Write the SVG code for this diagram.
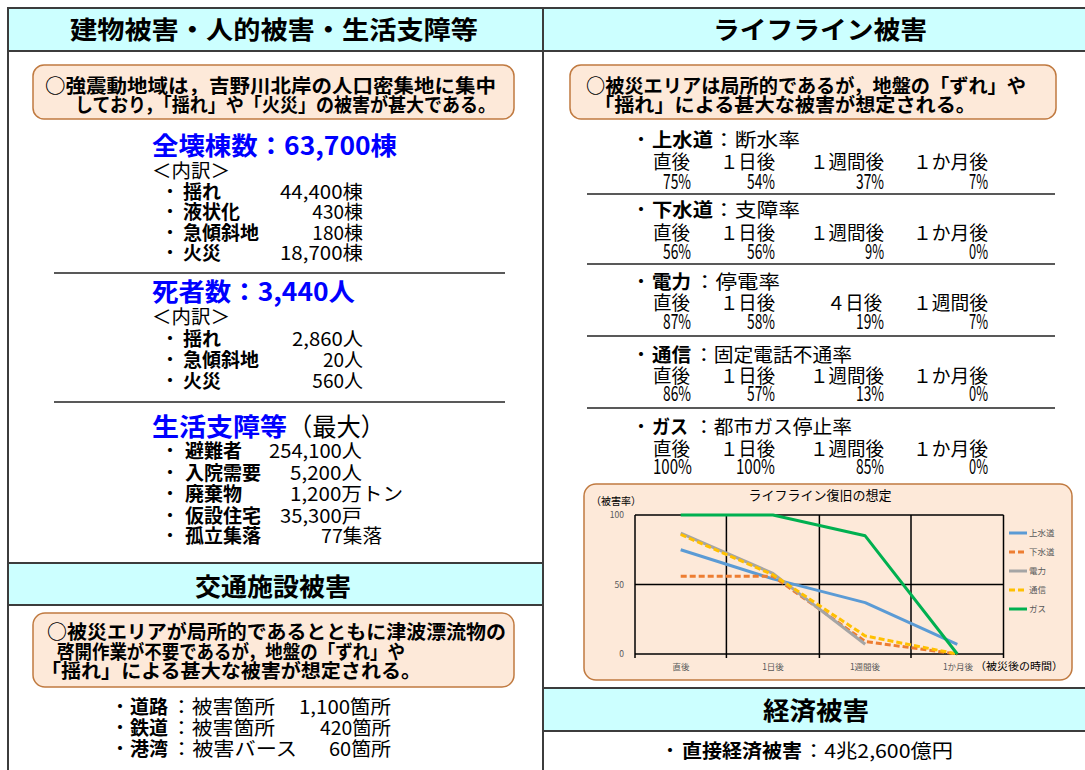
<svg xmlns="http://www.w3.org/2000/svg" width="1085" height="770" viewBox="0 0 1085 770">
<style>
text{font-family:"Noto Sans CJK JP","Noto Sans CJK SC",sans-serif;fill:#000}
.ttl{font-size:25px;font-weight:700;text-anchor:middle}
.hd{fill:#CCFFFF}
.fr{stroke:#3c3c3c;stroke-width:2;fill:none}
.co{fill:#FDE9D9;stroke:#C07A40;stroke-width:1.5}
.ct{font-size:19px;font-weight:700}
.bl{font-size:25px;font-weight:700;fill:#0000FF}
.n{font-size:19px}
.p{font-size:20.5px;text-anchor:end}
.b{font-weight:700}
.e{text-anchor:end}
.m{text-anchor:middle}
.dv{stroke:#222;stroke-width:1.3}
.g{stroke:#000;stroke-width:1.5}
.ax{font-size:8.5px;fill:#595959}
.s{fill:none;stroke-width:3;stroke-linejoin:round}
.d{stroke-dasharray:6 3}
</style>
<rect x="0" y="0" width="1085" height="770" fill="#fff"/>

<g id="frame">
<rect class="hd" x="8" y="8" width="535" height="43"/>
<rect class="hd" x="543" y="8" width="542" height="43"/>
<rect class="hd" x="8" y="563" width="535" height="42"/>
<rect class="hd" x="543" y="688" width="542" height="43"/>
<line class="fr" x1="7" y1="8" x2="1085" y2="8"/>
<line class="fr" x1="8" y1="51" x2="1085" y2="51"/>
<line class="fr" x1="8" y1="7" x2="8" y2="770"/>
<line class="fr" x1="543" y1="7" x2="543" y2="770"/>
<line class="fr" x1="8" y1="563" x2="543" y2="563"/>
<line class="fr" x1="8" y1="605" x2="543" y2="605"/>
<line class="fr" x1="543" y1="688" x2="1085" y2="688"/>
<line class="fr" x1="543" y1="731" x2="1085" y2="731"/>
</g>

<g id="building">
<text class="ttl" x="274" y="39" textLength="408" lengthAdjust="spacingAndGlyphs">建物被害・人的被害・生活支障等</text>
<rect class="co" x="33" y="65" width="481" height="54" rx="11"/>
<text class="ct" x="45" y="93" textLength="451" lengthAdjust="spacingAndGlyphs">○強震動地域は，吉野川北岸の人口密集地に集中</text>
<text class="ct" x="75" y="112" textLength="421" lengthAdjust="spacingAndGlyphs">しており，「揺れ」や「火災」の被害が甚大である。</text>

<text class="bl" x="152" y="155" textLength="245" lengthAdjust="spacingAndGlyphs">全壊棟数：63,700棟</text>
<text class="n" x="152" y="178" textLength="78" lengthAdjust="spacingAndGlyphs">＜内訳＞</text>
<text class="n m" x="170" y="199">・</text><text class="n b" x="183" y="199">揺れ</text><text class="n e" x="363" y="199" textLength="83" lengthAdjust="spacingAndGlyphs">44,400棟</text>
<text class="n m" x="170" y="219">・</text><text class="n b" x="183" y="219">液状化</text><text class="n e" x="363" y="219">430棟</text>
<text class="n m" x="170" y="240">・</text><text class="n b" x="183" y="240">急傾斜地</text><text class="n e" x="363" y="240">180棟</text>
<text class="n m" x="170" y="260">・</text><text class="n b" x="183" y="260">火災</text><text class="n e" x="363" y="260" textLength="83" lengthAdjust="spacingAndGlyphs">18,700棟</text>
<line class="dv" x1="54" y1="273" x2="505" y2="273"/>

<text class="bl" x="152" y="301" textLength="203" lengthAdjust="spacingAndGlyphs">死者数：3,440人</text>
<text class="n" x="152" y="324" textLength="78" lengthAdjust="spacingAndGlyphs">＜内訳＞</text>
<text class="n m" x="170" y="346">・</text><text class="n b" x="183" y="346">揺れ</text><text class="n e" x="363" y="346" textLength="71" lengthAdjust="spacingAndGlyphs">2,860人</text>
<text class="n m" x="170" y="367">・</text><text class="n b" x="183" y="367">急傾斜地</text><text class="n e" x="363" y="367">20人</text>
<text class="n m" x="170" y="388">・</text><text class="n b" x="183" y="388">火災</text><text class="n e" x="363" y="388">560人</text>
<line class="dv" x1="54" y1="402" x2="505" y2="402"/>

<text class="bl" x="152" y="436" textLength="135" lengthAdjust="spacingAndGlyphs">生活支障等</text>
<text x="288" y="436" style="font-size:25px" textLength="97" lengthAdjust="spacingAndGlyphs">（最大）</text>
<text class="n m" x="170" y="458">・</text><text class="n b" x="185" y="458">避難者</text><text class="n" x="269" y="458" textLength="93" lengthAdjust="spacingAndGlyphs">254,100人</text>
<text class="n m" x="170" y="480">・</text><text class="n b" x="185" y="480">入院需要</text><text class="n" x="290" y="480" textLength="72" lengthAdjust="spacingAndGlyphs">5,200人</text>
<text class="n m" x="170" y="501">・</text><text class="n b" x="185" y="501">廃棄物</text><text class="n" x="290" y="501" textLength="113" lengthAdjust="spacingAndGlyphs">1,200万トン</text>
<text class="n m" x="170" y="523">・</text><text class="n b" x="185" y="523">仮設住宅</text><text class="n" x="280" y="523" textLength="82" lengthAdjust="spacingAndGlyphs">35,300戸</text>
<text class="n m" x="170" y="543">・</text><text class="n b" x="185" y="543">孤立集落</text><text class="n" x="321" y="543" textLength="61" lengthAdjust="spacingAndGlyphs">77集落</text>
</g>

<g id="traffic">
<text class="ttl" x="273" y="596" textLength="156" lengthAdjust="spacingAndGlyphs">交通施設被害</text>
<rect class="co" x="33" y="613" width="481" height="74" rx="12"/>
<text class="ct" x="47" y="639" textLength="459" lengthAdjust="spacingAndGlyphs">○被災エリアが局所的であるとともに津波漂流物の</text>
<text class="ct" x="57" y="659" textLength="348" lengthAdjust="spacingAndGlyphs">啓開作業が不要であるが，地盤の「ずれ」や</text>
<text class="ct" x="41" y="678" textLength="380" lengthAdjust="spacingAndGlyphs">「揺れ」による甚大な被害が想定される。</text>
<text class="n m" x="120" y="714">・</text><text class="n b" x="130" y="714">道路</text><text class="n" x="171" y="714" textLength="104" lengthAdjust="spacingAndGlyphs">：被害箇所</text><text class="n e" x="391" y="714" textLength="92" lengthAdjust="spacingAndGlyphs">1,100箇所</text>
<text class="n m" x="120" y="735">・</text><text class="n b" x="130" y="735">鉄道</text><text class="n" x="171" y="735" textLength="104" lengthAdjust="spacingAndGlyphs">：被害箇所</text><text class="n e" x="391" y="735" textLength="71" lengthAdjust="spacingAndGlyphs">420箇所</text>
<text class="n m" x="120" y="756">・</text><text class="n b" x="130" y="756">港湾</text><text class="n" x="171" y="756" textLength="126" lengthAdjust="spacingAndGlyphs">：被害バース</text><text class="n e" x="391" y="756" textLength="62" lengthAdjust="spacingAndGlyphs">60箇所</text>
</g>

<g id="lifeline">
<text class="ttl" x="820" y="39" textLength="214" lengthAdjust="spacingAndGlyphs">ライフライン被害</text>
<rect class="co" x="570" y="65" width="486" height="54" rx="11"/>
<text class="ct" x="586" y="93" textLength="440" lengthAdjust="spacingAndGlyphs">○被災エリアは局所的であるが，地盤の「ずれ」や</text>
<text class="ct" x="594" y="112" textLength="382" lengthAdjust="spacingAndGlyphs">「揺れ」による甚大な被害が想定される。</text>

<text class="n m" x="641" y="147">・</text><text class="n b" x="652" y="147" textLength="61" lengthAdjust="spacingAndGlyphs">上水道</text><text class="n" x="713" y="147" textLength="87" lengthAdjust="spacingAndGlyphs">：断水率</text>
<text class="n" x="653" y="169" textLength="37" lengthAdjust="spacingAndGlyphs">直後</text><text class="n" x="720" y="169" textLength="55" lengthAdjust="spacingAndGlyphs">１日後</text><text class="n" x="810" y="169" textLength="74" lengthAdjust="spacingAndGlyphs">１週間後</text><text class="n" x="913" y="169" textLength="75" lengthAdjust="spacingAndGlyphs">１か月後</text>
<text class="p" x="691" y="189" textLength="28" lengthAdjust="spacingAndGlyphs">75%</text><text class="p" x="775" y="189" textLength="28" lengthAdjust="spacingAndGlyphs">54%</text><text class="p" x="884" y="189" textLength="28" lengthAdjust="spacingAndGlyphs">37%</text><text class="p" x="988" y="189" textLength="19" lengthAdjust="spacingAndGlyphs">7%</text>
<line class="dv" x1="587" y1="194" x2="1055" y2="194"/>

<text class="n m" x="641" y="217">・</text><text class="n b" x="652" y="217" textLength="61" lengthAdjust="spacingAndGlyphs">下水道</text><text class="n" x="713" y="217" textLength="87" lengthAdjust="spacingAndGlyphs">：支障率</text>
<text class="n" x="653" y="240" textLength="37" lengthAdjust="spacingAndGlyphs">直後</text><text class="n" x="720" y="240" textLength="55" lengthAdjust="spacingAndGlyphs">１日後</text><text class="n" x="810" y="240" textLength="74" lengthAdjust="spacingAndGlyphs">１週間後</text><text class="n" x="913" y="240" textLength="75" lengthAdjust="spacingAndGlyphs">１か月後</text>
<text class="p" x="691" y="259" textLength="28" lengthAdjust="spacingAndGlyphs">56%</text><text class="p" x="775" y="259" textLength="28" lengthAdjust="spacingAndGlyphs">56%</text><text class="p" x="884" y="259" textLength="19" lengthAdjust="spacingAndGlyphs">9%</text><text class="p" x="988" y="259" textLength="19" lengthAdjust="spacingAndGlyphs">0%</text>
<line class="dv" x1="587" y1="264" x2="1055" y2="264"/>

<text class="n m" x="641" y="289">・</text><text class="n b" x="652" y="289" textLength="39" lengthAdjust="spacingAndGlyphs">電力</text><text class="n" x="694" y="289" textLength="86" lengthAdjust="spacingAndGlyphs">：停電率</text>
<text class="n" x="653" y="310" textLength="37" lengthAdjust="spacingAndGlyphs">直後</text><text class="n" x="720" y="310" textLength="55" lengthAdjust="spacingAndGlyphs">１日後</text><text class="n" x="827" y="310" textLength="55" lengthAdjust="spacingAndGlyphs">４日後</text><text class="n" x="913" y="310" textLength="75" lengthAdjust="spacingAndGlyphs">１週間後</text>
<text class="p" x="691" y="329" textLength="28" lengthAdjust="spacingAndGlyphs">87%</text><text class="p" x="775" y="329" textLength="28" lengthAdjust="spacingAndGlyphs">58%</text><text class="p" x="884" y="329" textLength="28" lengthAdjust="spacingAndGlyphs">19%</text><text class="p" x="988" y="329" textLength="19" lengthAdjust="spacingAndGlyphs">7%</text>
<line class="dv" x1="587" y1="336" x2="1055" y2="336"/>

<text class="n m" x="641" y="362">・</text><text class="n b" x="652" y="362" textLength="39" lengthAdjust="spacingAndGlyphs">通信</text><text class="n" x="694" y="362" textLength="158" lengthAdjust="spacingAndGlyphs">：固定電話不通率</text>
<text class="n" x="653" y="383" textLength="37" lengthAdjust="spacingAndGlyphs">直後</text><text class="n" x="720" y="383" textLength="55" lengthAdjust="spacingAndGlyphs">１日後</text><text class="n" x="810" y="383" textLength="74" lengthAdjust="spacingAndGlyphs">１週間後</text><text class="n" x="913" y="383" textLength="75" lengthAdjust="spacingAndGlyphs">１か月後</text>
<text class="p" x="691" y="401" textLength="28" lengthAdjust="spacingAndGlyphs">86%</text><text class="p" x="775" y="401" textLength="28" lengthAdjust="spacingAndGlyphs">57%</text><text class="p" x="884" y="401" textLength="28" lengthAdjust="spacingAndGlyphs">13%</text><text class="p" x="988" y="401" textLength="19" lengthAdjust="spacingAndGlyphs">0%</text>
<line class="dv" x1="587" y1="408" x2="1055" y2="408"/>

<text class="n m" x="641" y="434">・</text><text class="n b" x="652" y="434" textLength="36" lengthAdjust="spacingAndGlyphs">ガス</text><text class="n" x="694" y="434" textLength="158" lengthAdjust="spacingAndGlyphs">：都市ガス停止率</text>
<text class="n" x="653" y="456" textLength="37" lengthAdjust="spacingAndGlyphs">直後</text><text class="n" x="720" y="456" textLength="55" lengthAdjust="spacingAndGlyphs">１日後</text><text class="n" x="810" y="456" textLength="74" lengthAdjust="spacingAndGlyphs">１週間後</text><text class="n" x="913" y="456" textLength="75" lengthAdjust="spacingAndGlyphs">１か月後</text>
<text class="p" x="692" y="474" textLength="39" lengthAdjust="spacingAndGlyphs">100%</text><text class="p" x="775" y="474" textLength="39" lengthAdjust="spacingAndGlyphs">100%</text><text class="p" x="884" y="474" textLength="28" lengthAdjust="spacingAndGlyphs">85%</text><text class="p" x="988" y="474" textLength="19" lengthAdjust="spacingAndGlyphs">0%</text>
</g>

<g id="chart">
<rect class="co" x="584" y="484" width="488" height="196" rx="12"/>
<text class="m" x="820" y="500" style="font-size:13px">ライフライン復旧の想定</text>
<text x="591" y="505" style="font-size:10.5px" textLength="50" lengthAdjust="spacingAndGlyphs">（被害率）</text>
<line class="g" x1="635" y1="515" x2="1003.5" y2="515"/>
<line class="g" x1="635" y1="584.5" x2="1003.5" y2="584.5"/>
<line class="g" x1="635" y1="654" x2="1003.5" y2="654"/>
<line class="g" x1="635" y1="515" x2="635" y2="658"/>
<line class="g" x1="726.4" y1="515" x2="726.4" y2="658"/>
<line class="g" x1="819.4" y1="515" x2="819.4" y2="658"/>
<line class="g" x1="911" y1="515" x2="911" y2="658"/>
<line class="g" x1="1003.5" y1="515" x2="1003.5" y2="658"/>
<text class="ax e" x="624" y="518">100</text>
<text class="ax e" x="624" y="587.5">50</text>
<text class="ax e" x="624" y="657">0</text>
<text class="ax m" x="681" y="670">直後</text>
<text class="ax m" x="773" y="670">1日後</text>
<text class="ax m" x="865" y="670">1週間後</text>
<text class="ax m" x="958" y="670">1か月後</text>
<text x="975" y="670" style="font-size:10.5px" textLength="88" lengthAdjust="spacingAndGlyphs">（被災後の時間）</text>
<polyline class="s" stroke="#5B9BD5" points="680.7,549.8 772.9,578.9 865.2,602.6 957.3,644.3"/>
<polyline class="s d" stroke="#ED7D31" points="680.7,576.2 772.9,576.2 865.2,641.5 957.3,654"/>
<polyline class="s" stroke="#A5A5A5" points="680.7,533.1 772.9,573.4 865.2,644.3"/>
<polyline class="s d" stroke="#FFC000" points="680.7,534.5 772.9,574.8 865.2,635.9 957.3,654"/>
<polyline class="s" stroke="#00B050" points="680.7,515 772.9,515 865.2,535.8 957.3,654"/>
<line class="s" stroke="#5B9BD5" x1="1009" y1="533" x2="1027" y2="533"/>
<line class="s d" stroke="#ED7D31" x1="1009" y1="552" x2="1027" y2="552"/>
<line class="s" stroke="#A5A5A5" x1="1009" y1="571" x2="1027" y2="571"/>
<line class="s d" stroke="#FFC000" x1="1009" y1="590" x2="1027" y2="590"/>
<line class="s" stroke="#00B050" x1="1009" y1="609" x2="1027" y2="609"/>
<text class="ax" x="1029" y="536">上水道</text>
<text class="ax" x="1029" y="555">下水道</text>
<text class="ax" x="1029" y="574">電力</text>
<text class="ax" x="1029" y="593">通信</text>
<text class="ax" x="1029" y="612">ガス</text>
</g>

<g id="economy">
<text class="ttl" x="816" y="720" textLength="106" lengthAdjust="spacingAndGlyphs">経済被害</text>
<text class="n m" x="670" y="758">・</text><text class="n b" x="682" y="758" textLength="120" lengthAdjust="spacingAndGlyphs">直接経済被害</text><text class="n" x="803" y="758" textLength="150" lengthAdjust="spacingAndGlyphs">：4兆2,600億円</text>
</g>
</svg>
